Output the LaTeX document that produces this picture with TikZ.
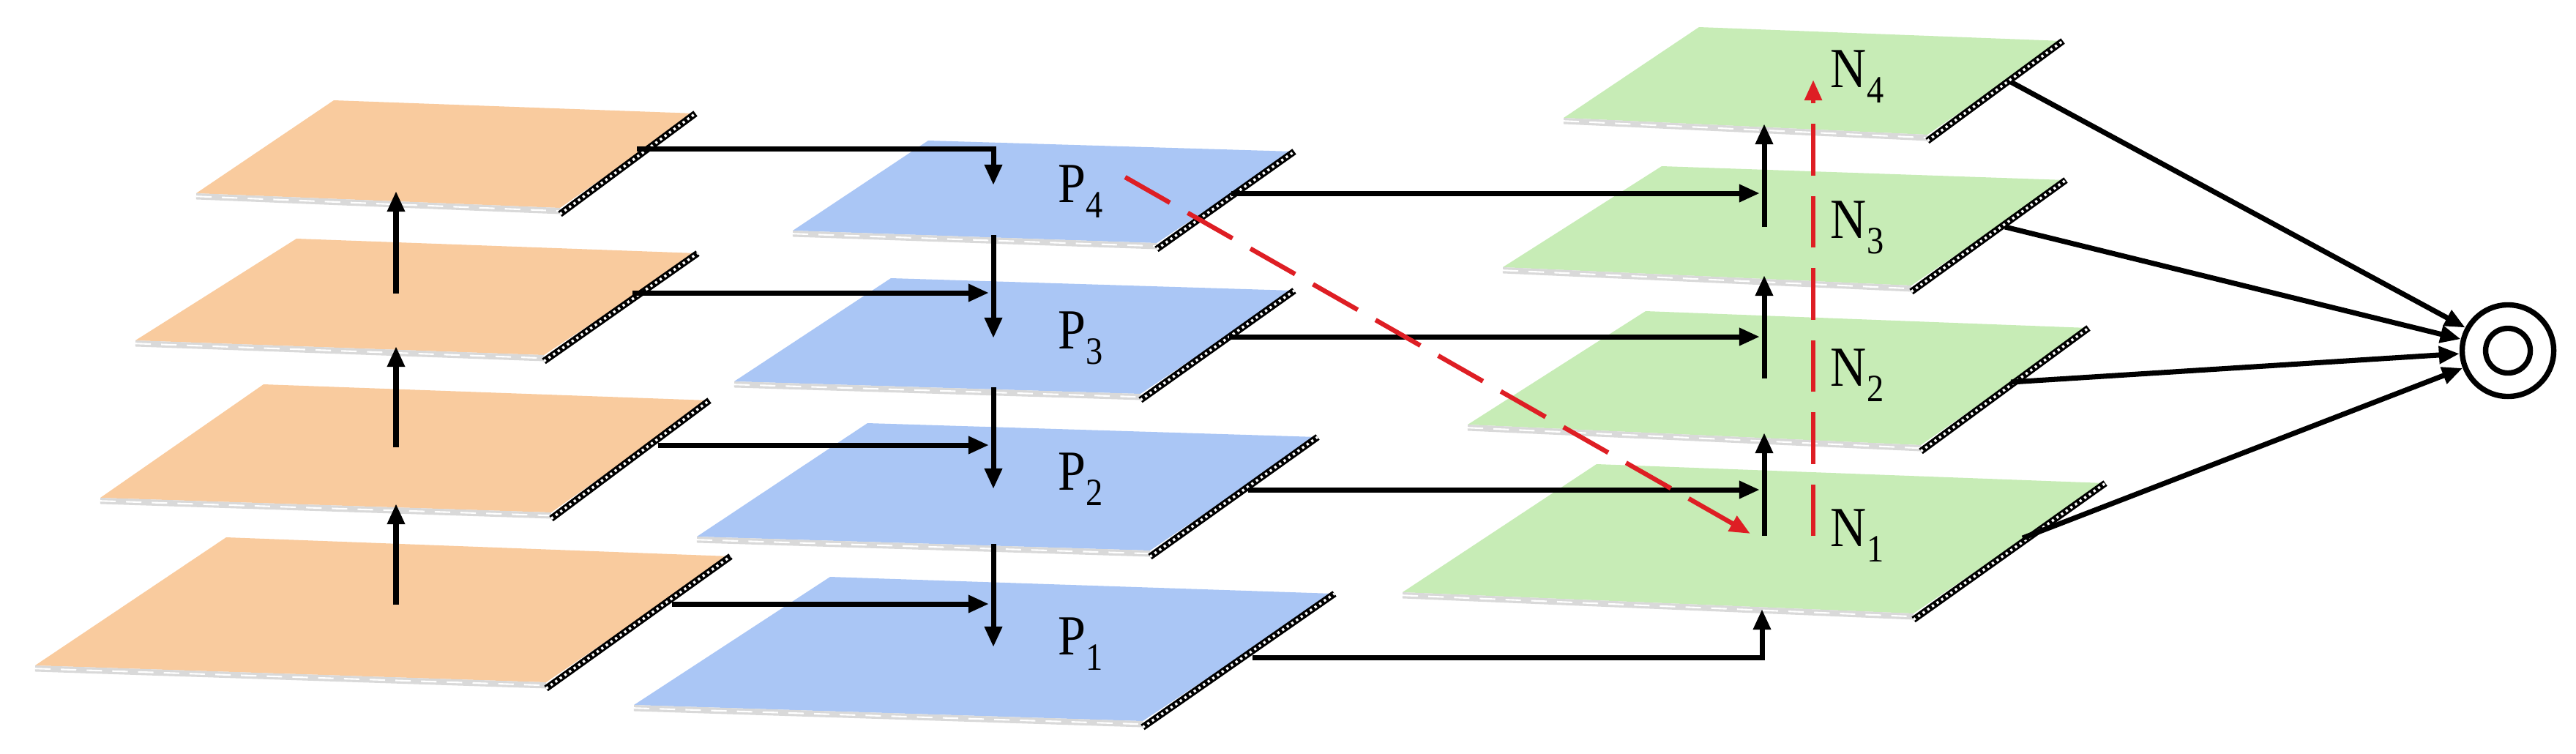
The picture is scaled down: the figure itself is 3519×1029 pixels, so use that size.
\documentclass[tikz,border=0pt]{standalone}
\usepackage{fontspec}
\setmainfont{Liberation Serif}
\usetikzlibrary{arrows.meta}

\definecolor{orangeface}{RGB}{249,203,158}
\definecolor{blueface}{RGB}{170,198,245}
\definecolor{greenface}{RGB}{199,236,182}
\definecolor{redline}{RGB}{222,30,36}

\newcommand{\lbl}[2]{\scalebox{0.88}[1]{#1\raisebox{-5.9pt}{\fontsize{15}{15}\selectfont #2}}}

\begin{document}
\begin{tikzpicture}[x=0.01cm,y=-0.01cm,
    arr/.style={-{Triangle[length=8pt,width=6.5pt]},line width=2pt},
    redarr/.style={-{Triangle[length=8pt,width=6.5pt]},line width=1.8pt,redline,dash pattern=on 20pt off 8pt},
    frontedge/.style={line width=2.4pt,gray!30},
    frontdash/.style={line width=0.6pt,white,dash pattern=on 6pt off 4pt},
    sideedge/.style={line width=2.6pt,black},
    sidedots/.style={line width=1pt,white,dash pattern=on 0.9pt off 1.3pt},
    lab/.style={inner sep=0pt,font=\fontsize{22}{24}\selectfont},
    outer/.style={circle,draw,line width=2.1pt,minimum size=1.25cm,inner sep=0pt},
    innerring/.style={circle,draw,line width=2.1pt,minimum size=0.61cm,inner sep=0pt}]

    \useasboundingbox (0,0) rectangle (3519,1029);

    % Draw the plates: name/colour/top left/top right/bottom right/bottom left
    \foreach \n/\c/\tl/\tr/\br/\bl in {
    o4/orangeface/{456,137}/{950,155}/{765,284}/{268,264},
    o3/orangeface/{405,326}/{953,346}/{743,485}/{185,465},
    o2/orangeface/{360,525}/{969,547}/{753,700}/{137,680},
    o1/orangeface/{309,734}/{998,760}/{746,932}/{48,909},
    b4/blueface/{1268,192}/{1768,207}/{1580,332}/{1083,315},
    b3/blueface/{1217,380}/{1768,397}/{1558,538}/{1003,521},
    b2/blueface/{1185,578}/{1800,597}/{1571,752}/{952,733},
    b1/blueface/{1134,788}/{1823,811}/{1561,985}/{866,963},
    g4/greenface/{2321,37}/{2818,56}/{2633,184}/{2136,161},
    g3/greenface/{2270,227}/{2822,246}/{2611,390}/{2053,365},
    g2/greenface/{2248,425}/{2853,448}/{2624,608}/{2005,580},
    g1/greenface/{2181,634}/{2876,660}/{2614,838}/{1916,809}} {
    \coordinate (\n-tl) at (\tl);
    \coordinate (\n-tr) at (\tr);
    \coordinate (\n-br) at (\br);
    \coordinate (\n-bl) at (\bl);
    \fill [\c] (\n-tl) -- (\n-tr) -- (\n-br) -- (\n-bl) -- cycle;
    \draw [frontedge] ([yshift=-1.2pt]\n-bl) -- ([yshift=-1.2pt]\n-br);
    \draw [frontdash] ([yshift=-1.2pt]\n-bl) -- ([yshift=-1.2pt]\n-br);
    \draw [sideedge] ([yshift=-2.4pt]\n-br) -- (\n-tr);
    \draw [sidedots] ([yshift=-2.4pt]\n-br) -- (\n-tr);
    }

    % Labels of the pyramid levels
    \foreach \i/\y in {4/262, 3/462, 2/655, 1/880} {
    \node [lab] (p\i) at (1476,\y) {\lbl{P}{\i}};
    }
    \foreach \i/\y in {4/105, 3/311, 2/513, 1/732} {
    \node [lab] (n\i) at (2537,\y) {\lbl{N}{\i}};
    }

    % Upward arrows in the orange stack
    \foreach \i/\ya/\yb in {1/826/688, 2/611/473, 3/401/261} {
    \coordinate (os\i) at (541,\ya);
    \coordinate (oe\i) at (541,\yb);
    \draw [arr] (os\i) -- (oe\i);
    }

    % Orange to blue
    \coordinate (oa4) at (870,203);
    \coordinate (pa4) at (1357,253);
    \draw [arr] (oa4) -| (pa4);
    \foreach \i/\xa/\y in {3/864/400, 2/899/608, 1/918/825} {
    \coordinate (oa\i) at (\xa,\y);
    \coordinate (pa\i) at (1351,\y);
    \draw [arr] (oa\i) -- (pa\i);
    }

    % Downward arrows in the blue stack
    \foreach \i/\ya/\yb in {4/321/462, 3/529/668, 2/743/884} {
    \coordinate (ps\i) at (1357,\ya);
    \coordinate (pe\i) at (1357,\yb);
    \draw [arr] (ps\i) -- (pe\i);
    }

    % Blue to green
    \foreach \i/\xa/\y in {4/1682/264, 3/1679/460, 2/1705/669} {
    \coordinate (pb\i) at (\xa,\y);
    \coordinate (na\i) at (2404,\y);
    \draw [arr] (pb\i) -- (na\i);
    }
    \coordinate (pb1) at (1711,898);
    \coordinate (na1) at (2407,832);
    \draw [arr] (pb1) -| (na1);

    % Upward arrows in the green stack
    \foreach \i/\ya/\yb in {1/732/591, 2/517/376, 3/310/169} {
    \coordinate (ns\i) at (2410,\ya);
    \coordinate (ne\i) at (2410,\yb);
    \draw [arr] (ns\i) -- (ne\i);
    }

    % Output
    \node [outer] (out) at (3426,479) {};
    \node [innerring] (outc) at (out) {};
    \foreach \i/\x/\y in {4/2747/112, 3/2739/310, 2/2747/522, 1/2763/735} {
    \coordinate (ng\i) at (\x,\y);
    \draw [arr] (ng\i) -- (out);
    }

    % Red dashed path
    \coordinate (r0) at (1537,242);
    \coordinate (r1) at (2391,729);
    \coordinate (r2) at (2477,732);
    \coordinate (r3) at (2477,109);
    \draw [redarr] (r0) -- (r1);
    \draw [redarr] (r2) -- (r3);

\end{tikzpicture}
\end{document}
